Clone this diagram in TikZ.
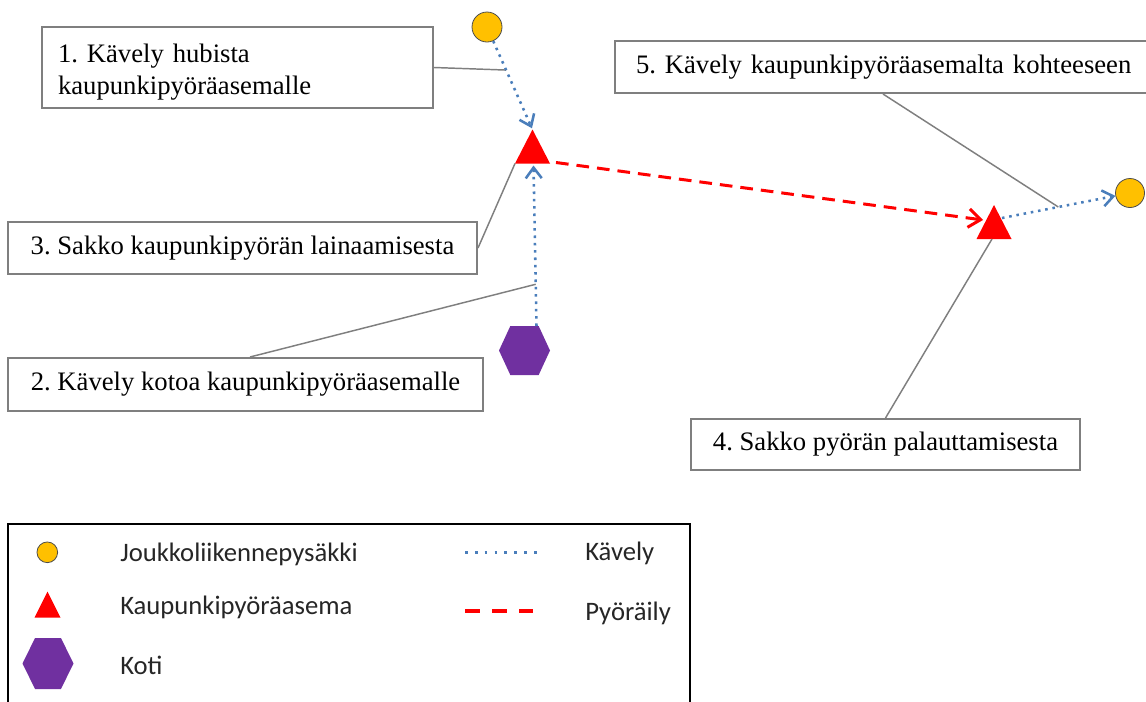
\documentclass[tikz,border=0pt]{standalone}
\usepackage{fontspec}
\setmainfont{Liberation Serif}
\newfontfamily\legfont{Carlito}
\usetikzlibrary{arrows.meta,calc}
\definecolor{stopcol}{HTML}{FFC000}
\definecolor{homecol}{HTML}{7030A0}
\definecolor{walkcol}{HTML}{4A7EBB}
\definecolor{boxcol}{HTML}{7F7F7F}
\frenchspacing
\tikzset{
  box/.style={draw=boxcol, line width=1.5pt, fill=white, inner sep=0pt,
    font=\fontsize{20}{24}\selectfont},
  stop/.style={circle, fill=stopcol, draw=black!70, line width=0.6pt, inner sep=0pt},
  station/.style={rectangle, inner sep=0pt, outer sep=0pt,
    path picture={\fill[red] (path picture bounding box.south west)
      -- (path picture bounding box.north) -- (path picture bounding box.south east) -- cycle;}},
  home/.style={rectangle, inner sep=0pt, outer sep=0pt,
    path picture={\fill[homecol] (path picture bounding box.west)
      -- ([xshift=#1]path picture bounding box.north west)
      -- ([xshift=-#1]path picture bounding box.north east)
      -- (path picture bounding box.east)
      -- ([xshift=-#1]path picture bounding box.south east)
      -- ([xshift=#1]path picture bounding box.south west) -- cycle;}},
  walk/.style={draw=walkcol, line width=1.9pt, dash pattern=on 1.9pt off 3.6pt},
  walkarrow/.style={walk, -{Straight Barb[length=8pt,width=12pt]}},
  ride/.style={draw=red, line width=2.25pt, dash pattern=on 9.5pt off 6pt},
  ridearrow/.style={ride, -{Straight Barb[length=9pt,width=14pt]}},
  leader/.style={draw=boxcol, line width=1.1pt},
  legtext/.style={anchor=base west, inner sep=0pt, text=black!85,
    font=\legfont\fontsize{20}{24}\selectfont}
}
\begin{document}
\begin{tikzpicture}[x=0.75pt, y=-0.75pt]
\useasboundingbox (0,0) rectangle (1146,701);

% --- map symbols ---
\node[stop, minimum size=22.5pt] (c1) at (487,27) {};
\node[stop, minimum size=21.75pt] (c2) at (1130,193) {};
\node[station, minimum width=26.25pt, minimum height=25.5pt] (t1) at (532.5,146.5) {};
\node[station, minimum width=26.25pt, minimum height=25.5pt] (t2) at (994,222) {};
\node[home=8.5pt, minimum width=38.25pt, minimum height=36.75pt] (h1) at (524.5,350.5) {};

% --- connector end points ---
\coordinate (a2s) at ($(h1.north)+(12,0)$);
\coordinate (a2e) at ($(t1.south)+(1,2)$);
\coordinate (a3s) at ($(t1.south east)+(6,-1)$);
\coordinate (a3e) at ($(t2.center)+(-11,-2)$);
\coordinate (a4s) at ($(t2.center)+(8,-4)$);

% --- text boxes ---
\node[box, minimum width=293.25pt, minimum height=60.75pt, text width=269.25pt, align=left]
  (b1) at (237.5,67.5) {\rule{0pt}{21pt}1. Kävely hubista\\kaupunkipyöräasemalle};
\node[box, minimum width=412.5pt, minimum height=39pt, text width=381pt, align=left]
  (b5) at (890,67) {5. Kävely kaupunkipyöräasemalta kohteeseen};
\node[box, minimum width=351.75pt, minimum height=39pt]
  (b3) at (242.5,248) {3. Sakko kaupunkipyörän lainaamisesta};
\node[box, minimum width=356.25pt, minimum height=39.75pt]
  (b2) at (245.5,384.5) {2. Kävely kotoa kaupunkipyöräasemalle};
\node[box, minimum width=291.75pt, minimum height=38.25pt]
  (b4) at (885.5,444.5) {4. Sakko pyörän palauttamisesta};

% --- leader lines ---
\draw[leader] (b1.east) -- ($(c1)!0.42!(t1.north)$);
\draw[leader] ($(b5.south)+(-7,0)$) -- ($(a4s)!0.44!(c2)$);
\draw[leader] (b3.east) -- (t1.south west);
\draw[leader] ($(b2.north)+(4.5,0)$) -- ($(a2s)!0.26!(a2e)$);
\draw[leader] (b4.north) -- ($(t2.south)+(-2,0)$);

% --- movement connectors ---
\draw[walkarrow, shorten >=1pt] (c1) -- (t1.north);
\draw[walkarrow] (a2s) -- (a2e);
\draw[ridearrow] (a3s) -- (a3e);
\draw[walkarrow] (a4s) -- (c2);

% --- legend ---
\node[draw=black, line width=1.5pt, minimum width=511.5pt, minimum height=144pt, inner sep=0pt]
  (legend) at (349,620) {};
\node[stop, minimum size=15.5pt] (lc) at (47.3,552.3) {};
\node[station, minimum width=19.5pt, minimum height=19.5pt] (lt) at (47.5,604.5) {};
\node[home=9.4pt, minimum width=38.25pt, minimum height=38.25pt] (lh) at (48,663.5) {};
\node[legtext] (l1) at (120,561) {Joukkoliikennepysäkki};
\node[legtext] (l2) at (120,614) {Kaupunkipyöräasema};
\node[legtext] (l3) at (120,674) {Koti};
\coordinate (lw1) at (465,552.5);
\coordinate (lw2) at (538,552.5);
\coordinate (lr1) at (465,611);
\coordinate (lr2) at (533,611);
\draw[walk, dash pattern=on 2pt off 5.4pt] (lw1) -- (lw2);
\draw[draw=red, line width=2.8pt, dash pattern=on 11.25pt off 9pt] (lr1) -- (lr2);
\node[legtext] (l4) at (585,560) {Kävely};
\node[legtext] (l5) at (585,620) {Pyöräily};
\end{tikzpicture}
\end{document}
